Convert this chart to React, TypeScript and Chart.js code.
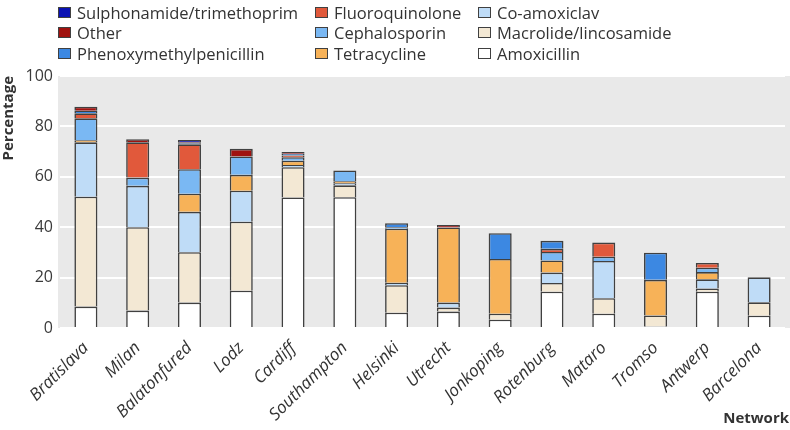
import React, { useEffect, useRef } from "react";
import { Chart, registerables } from "chart.js";
Chart.register(...registerables);

const categories = ["Bratislava", "Milan", "Balatonfured", "Lodz", "Cardiff", "Southampton", "Helsinki", "Utrecht", "Jonkoping", "Rotenburg", "Mataro", "Tromso", "Antwerp", "Barcelona"];

const amoxicillin = [8.5, 6.9, 10.1, 14.8, 51.8, 51.9, 6.1, 6.5, 3.3, 14.4, 5.7, 0.6, 14.4, 4.9];
const macrolide = [43.6, 33.1, 20.0, 27.4, 12.0, 4.7, 10.9, 1.6, 2.4, 3.5, 6.1, 4.4, 1.3, 5.3];
const coamoxiclav = [21.6, 16.4, 16.0, 12.3, 0.9, 0.8, 1.0, 2.0, 0, 4.1, 14.8, 0, 3.6, 9.9];
const tetracycline = [0.8, 0, 7.2, 6.3, 1.7, 0.8, 21.4, 29.8, 21.7, 4.8, 0, 14.1, 2.9, 0];
const cephalosporin = [8.7, 3.3, 9.7, 7.3, 1.4, 4.3, 0.6, 0, 0, 3.4, 1.7, 0, 1.7, 0];
const fluoroquinolone = [2.0, 14.0, 9.9, 0, 0.7, 0, 0, 0, 0, 1.2, 5.6, 0, 1.9, 0];
const phenoxymethylpenicillin = [1.0, 0, 0.4, 0, 0.6, 0, 1.6, 0, 10.2, 3.2, 0, 10.8, 0, 0];
const other = [1.6, 1.2, 0.4, 3.0, 0.7, 0, 0, 1.0, 0, 0, 0, 0, 0, 0];
const sulphonamide = [0, 0, 0.9, 0, 0, 0, 0, 0, 0, 0, 0, 0, 0, 0];

const yTicks = [0, 20, 40, 60, 80, 100];

const FONT = "'Open Sans', 'Noto Sans', sans-serif";
const BORDER = "#404040";

const series = [
  { label: "Amoxicillin", data: amoxicillin, color: "#ffffff" },
  { label: "Macrolide/lincosamide", data: macrolide, color: "#f3e8d4" },
  { label: "Co-amoxiclav", data: coamoxiclav, color: "#bfdcf7" },
  { label: "Tetracycline", data: tetracycline, color: "#f7b258" },
  { label: "Cephalosporin", data: cephalosporin, color: "#7ab8f3" },
  { label: "Fluoroquinolone", data: fluoroquinolone, color: "#e1593b" },
  { label: "Phenoxymethylpenicillin", data: phenoxymethylpenicillin, color: "#3c88e2" },
  { label: "Other", data: other, color: "#a0120f" },
  { label: "Sulphonamide/trimethoprim", data: sulphonamide, color: "#0b12b3" },
];

const legendOrder = [
  "Sulphonamide/trimethoprim", "Other", "Phenoxymethylpenicillin",
  "Fluoroquinolone", "Cephalosporin", "Tetracycline",
  "Co-amoxiclav", "Macrolide/lincosamide", "Amoxicillin",
];
const legendColX = [58, 315, 478];
const legendRowY = [12, 32.5, 53];

const bgPlugin = {
  id: "bgPlugin",
  beforeDraw(chart: any) {
    const { ctx, chartArea } = chart;
    ctx.save();
    ctx.fillStyle = "#e9e9e9";
    ctx.fillRect(chartArea.left - 2, chartArea.top, chart.width - chartArea.left + 2, chartArea.bottom - chartArea.top);
    ctx.restore();
  },
  afterDraw(chart: any) {
    const { ctx } = chart;
    ctx.save();
    ctx.fillStyle = "#333333";
    ctx.font = `bold 15px ${FONT}`;
    ctx.textAlign = "right";
    ctx.textBaseline = "middle";
    ctx.fillText("Network", 789, 419);
    ctx.restore();
  },
};

export default function App() {
  const ref = useRef<HTMLCanvasElement>(null);
  useEffect(() => {
    if (!ref.current) return;
    const chart = new Chart(ref.current, {
      type: "bar",
      data: {
        labels: categories,
        datasets: series.map((s) => ({
          label: s.label,
          data: s.data,
          backgroundColor: s.color,
          borderColor: BORDER,
          borderWidth: 1.6,
          categoryPercentage: 1,
          barPercentage: 0.445,
        })),
      },
      options: {
        responsive: false,
        animation: false,
        layout: { padding: { top: 76, right: 5, left: 0, bottom: 0 } },
        plugins: { legend: { display: false }, tooltip: { enabled: false } },
        scales: {
          x: {
            stacked: true,
            grid: { display: false },
            border: { display: false },
            afterFit: (s: any) => { s.height = 102; },
            ticks: {
              autoSkip: false,
              minRotation: 45,
              maxRotation: 45,
              padding: 2,
              color: "#333333",
              font: { family: FONT, size: 17, style: "italic" },
            },
          },
          y: {
            stacked: true,
            min: 0,
            max: 100,
            afterFit: (s: any) => { s.width = 60; },
            afterBuildTicks: (s: any) => { s.ticks = yTicks.map((v) => ({ value: v })); },
            grid: { color: "#ffffff", lineWidth: 2, drawTicks: false },
            border: { display: false },
            ticks: {
              padding: 7,
              color: "#3a3a3a",
              font: { family: FONT, size: 16 },
            },
            title: {
              display: true,
              text: "Percentage",
              align: "end",
              color: "#333333",
              padding: { top: 0, bottom: 0 },
              font: { family: FONT, size: 15, weight: "bold" },
            },
          },
        },
      },
      plugins: [bgPlugin],
    });
    return () => chart.destroy();
  }, []);

  const colorOf = (l: string) => series.find((s) => s.label === l)!.color;

  return (
    <div style={{ position: "absolute", left: 0, top: 0, width: 790, height: 430, background: "#fff" }}>
      <canvas ref={ref} width={790} height={430} style={{ position: "absolute", left: 0, top: 0 }} />
      {legendOrder.map((l, i) => {
        const col = Math.floor(i / 3);
        const row = i % 3;
        return (
          <div
            key={l}
            style={{
              position: "absolute",
              left: legendColX[col],
              top: legendRowY[row] - 11,
              height: 22,
              display: "flex",
              alignItems: "center",
              fontFamily: FONT,
              fontSize: 16.5,
              color: "#333333",
              whiteSpace: "nowrap",
            }}
          >
            <span
              style={{
                display: "inline-block",
                width: 11,
                height: 9,
                background: colorOf(l),
                border: `1.5px solid ${BORDER}`,
                marginRight: 6,
              }}
            />
            <span>{l}</span>
          </div>
        );
      })}
    </div>
  );
}
